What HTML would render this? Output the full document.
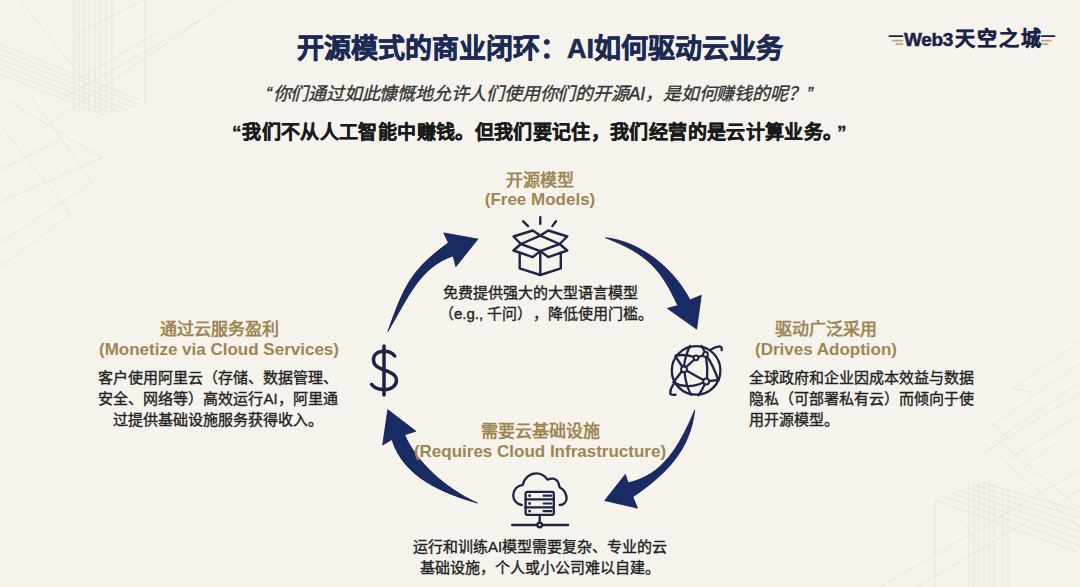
<!DOCTYPE html>
<html lang="zh-CN">
<head>
<meta charset="utf-8">
<style>
html,body{margin:0;padding:0;}
body{width:1080px;height:587px;overflow:hidden;position:relative;background:#f6f3ec;font-family:"Liberation Sans",sans-serif;}
.t{position:absolute;white-space:nowrap;line-height:1;}
.c{text-align:center;width:600px;}
.gold{color:#9e8654;font-weight:bold;font-size:17px;}
.body{color:#222;font-size:15px;line-height:21px;-webkit-text-stroke:0.35px #222;}
svg{position:absolute;left:0;top:0;}
</style>
</head>
<body>
<svg width="1080" height="587" viewBox="0 0 1080 587">
<!-- background decorative lines -->
<g stroke="#e4dfd4" stroke-width="0.7" fill="none">
<path d="M74,0V113M79,0V113M84,0V113M89,0V113M95,0V113M100,0V113M106,0V113M112,0V113M145,0V104"/>
<path d="M0,44L140,100M0,49L140,105M0,54L135,108M0,59L128,110M0,64L120,112M0,69L112,113M0,74L104,115"/>
<path d="M74,36L143,0M79,79L160,31M60,100L200,20M40,130L230,0"/>
<path d="M7,100L102,158M30,95L92,182M0,125L71,214M102,158L0,202M92,182L0,243M71,214L0,267M60,140L0,170M20,0L79,74"/>
<path d="M969,481V587M974,481V587M979,481V587M984,482V587M989,482V587M994,483V587M1003,487V587M1008,488V587M935,500V587"/>
<path d="M935,500L1080,553M943,496L1080,546M951,493L1080,539M959,490L1080,532M967,487L1080,525M975,485L1080,518M983,483L1080,511"/>
<path d="M880,587L1080,470M917,587L1080,490M980,440L1080,528M997,440L1080,508M1020,470L1060,440"/>
<path d="M1013,389L1080,341M989,428L1080,363M994,442L1080,382M983,453L1080,393M1008,460L1080,414M989,420L1033,460M1013,389L1032,392M960,520L977,540"/>
</g>
<!-- logo decorations -->
<g stroke-width="1.8" stroke-linecap="round">
<path d="M889.5,36.2H902.4M1041.9,36.2H1054.5" stroke="#1a2347"/>
<path d="M892.6,40.6H902.4M896.4,44.1H902.4M1041.9,40.6H1051.1M1041.9,44.1H1047.7" stroke="#c4a76c"/>
</g>
<!-- arrows -->
<g fill="#192b64" stroke="#111c48" stroke-width="0.8" stroke-linejoin="miter">
<path d="M387.9,331.5 C404.4,284.5 412,269.35 448.4,242.8 L443.75,232.9 L477.9,239.1 L455.9,266.6 L453.1,255.9 C419.85,267.1 408.3,297.1 387.9,331.5 Z"/>
<path d="M605.6,237.75 C640.25,241.25 674.25,268.85 690,300 L701.25,295.3 L696.6,329.1 L667.5,308.4 L677.8,305.6 C661,269.2 647.45,253.95 605.6,237.75 Z"/>
<path d="M694.7,410.25 C690.3,449.85 666,474.5 632.8,496.9 L637.5,508.1 L604.7,500.6 L625.3,474.4 L628.1,482.8 C662.4,475.45 679.1,447.05 694.7,410.25 Z"/>
<path d="M477.3,503 C443.7,493.2 403.5,477.8 391.9,439.4 L382.7,445 L387.8,409.7 L415.9,431.2 L404.6,434.8 C416.6,462.4 445.4,488.3 477.3,503 Z"/>
</g>
<!-- box icon -->
<g fill="none" stroke="#1c2447" stroke-width="2.4" stroke-linejoin="round" stroke-linecap="round">
<path d="M523.2,221.3 L528,226.1 M540.3,217.2 L540.3,223.7 M556,221.3 L552.4,226.1"/>
<path d="M520.9,244 L540.3,235.6 L559.6,244 L540.3,251.1 Z"/>
<path d="M520.9,244 L513.5,236.5 L532.8,230.5 L540.3,235.6 L548.3,230.5 L567.3,236.5 L559.6,244"/>
<path d="M520.9,244 L513.5,250.5 L532.8,257.1 L540.3,251.1 L548.3,257.1 L567.3,250.5 L559.6,244"/>
<path d="M519.7,252.9 L519.7,268.4 L540.3,275 L560.8,268.4 L560.8,252.9 M540.3,251.1 L540.3,275"/>
</g>
<!-- dollar -->
<g fill="none" stroke="#1c2447" stroke-width="3.5" stroke-linecap="round">
<path d="M384,346 L384,395"/>
<path d="M394.7,356 C392,352.5 388,351.3 384,351.3 C377.5,351.3 373.5,354.5 373.5,359.8 C373.5,366 378.5,368 384,370 C391,372 396.5,374.5 396.5,380 C396.5,386 391,389.6 384,389.6 C378,389.6 373.5,387 371.5,384.3"/>
</g>
<!-- globe -->
<g fill="none" stroke="#1c2447" stroke-width="2.3" stroke-linecap="round" stroke-linejoin="round">
<circle cx="696.1" cy="370.4" r="24.3"/>
<path d="M675.7,355.5 Q686,354 693.8,357"/>
<path d="M690,346 Q685,356 684,366.7"/>
<path d="M675.5,356.5 L682.5,367"/>
<path d="M685.8,367.3 L694.3,359.5"/>
<path d="M698.2,357 L703.3,355.3"/>
<path d="M701.5,346 Q704,350 705,352.3"/>
<path d="M706,356.8 Q708,368 707,379"/>
<path d="M707,356.5 Q713,365 718.5,380.5"/>
<path d="M686.3,370.5 L703.8,380.3"/>
<path d="M684.5,372 Q686,386 691,394.5"/>
<path d="M682,371 L673.5,382.2"/>
<path d="M673.5,382.5 Q688,390 703.8,382.3"/>
<path d="M708.6,381.2 L718.2,380"/>
<path d="M705,384 Q702,390 698.5,395.3"/>
<path d="M710.9,349.7 Q715,346.5 719.6,346.3 Q722.5,347 721.6,350.2"/>
<path d="M673.5,384.4 Q670,389 670.2,393.6 Q672,395.5 675.6,394.7"/>
<circle cx="684" cy="369.3" r="2.9" fill="#f6f3ec" stroke-width="2"/>
<circle cx="696" cy="357.8" r="2.4" fill="#f6f3ec" stroke-width="2"/>
<circle cx="705.5" cy="354.5" r="2.4" fill="#f6f3ec" stroke-width="2"/>
<circle cx="706.2" cy="381.5" r="2.9" fill="#f6f3ec" stroke-width="2"/>
</g>
<!-- cloud server -->
<g fill="none" stroke="#1c2447" stroke-width="2.3" stroke-linecap="round" stroke-linejoin="round">
<path d="M521.7,505 C516,504 513,499.5 513.3,495 C513.5,490 517,485.5 522.8,484.9 C524,478 530,473.3 536.5,473.3 C541,473.3 545,476 547.6,479.6 C550,478.5 552,478.5 553.4,478.6 C556.5,479 558.7,481.5 559.7,487.5 C564,489 566.6,494 566.6,498.5 C566.6,502 563.5,505 559.7,505"/>
<rect x="525.6" y="491.9" width="28.2" height="22.9" rx="1.8" fill="#f6f3ec"/>
<path d="M525.6,499.4 H553.8 M525.6,507.4 H553.8 M539.7,514.8 V522.6 M512.2,525 H537.3 M542.1,525 H568.2"/>
<circle cx="539.7" cy="525" r="2.3"/>
<path d="M543.6,495.7 H551.2 M543.6,503.5 H551.2 M543.6,511.2 H551.2" stroke-width="2.2"/>
</g>
<g fill="#1c2447"><circle cx="529.6" cy="495.7" r="1.4"/><circle cx="529.6" cy="503.5" r="1.4"/><circle cx="529.6" cy="511.2" r="1.4"/></g>
</svg>
<div class="t c" style="left:240px;top:36px;font-size:27px;font-weight:bold;color:#1b2a55;-webkit-text-stroke:0.6px #1b2a55;">开源模式的商业闭环：AI如何驱动云业务</div>
<div class="t" style="left:266px;top:85px;font-size:18px;letter-spacing:-0.2px;font-style:italic;color:#333;-webkit-text-stroke:0.35px #333;">“</div>
<div class="t" style="left:272.5px;top:85px;font-size:18px;letter-spacing:-0.2px;font-style:italic;color:#333;-webkit-text-stroke:0.35px #333;">你们通过如此慷慨地允许人们使用你们的开源AI，是如何赚钱的呢？</div>
<div class="t" style="left:807px;top:85px;font-size:18px;letter-spacing:-0.2px;font-style:italic;color:#333;-webkit-text-stroke:0.35px #333;">”</div>
<div class="t" style="left:232px;top:123px;font-size:19px;font-weight:bold;color:#1a1a1a;-webkit-text-stroke:0.4px #1a1a1a;">“</div>
<div class="t" style="left:242.3px;top:123px;font-size:19px;letter-spacing:0.36px;font-weight:bold;color:#1a1a1a;-webkit-text-stroke:0.4px #1a1a1a;">我们不从人工智能中赚钱。但我们要记住，我们经营的是云计算业务。</div>
<div class="t" style="left:837px;top:123px;font-size:19px;font-weight:bold;color:#1a1a1a;-webkit-text-stroke:0.4px #1a1a1a;">”</div>

<div class="t c gold" style="left:240px;top:172px;">开源模型</div>
<div class="t c gold" style="left:240px;top:191px;">(Free Models)</div>
<div class="t c body" style="left:240px;top:282px;">免费提供强大的大型语言模型</div>
<div class="t body" style="left:439px;top:303px;">（e.g., 千问）<span style="margin-left:8px">，</span>降低使用门槛。</div>

<div class="t c gold" style="left:526px;top:321px;">驱动广泛采用</div>
<div class="t c gold" style="left:526px;top:341px;">(Drives Adoption)</div>
<div class="t body" style="left:749px;top:367px;">全球政府和企业因成本效益与数据<br>隐私（可部署私有云）而倾向于使<br>用开源模型。</div>

<div class="t c gold" style="left:-81px;top:321px;">通过云服务盈利</div>
<div class="t c gold" style="left:-81px;top:341px;">(Monetize via Cloud Services)</div>
<div class="t c body" style="left:-82px;top:367px;">客户使用阿里云（存储、数据管理、<br>安全、网络等）高效运行AI，阿里通<br>过提供基础设施服务获得收入。</div>

<div class="t c gold" style="left:240px;top:423px;">需要云基础设施</div>
<div class="t c gold" style="left:240px;top:443px;">(Requires Cloud Infrastructure)</div>
<div class="t c body" style="left:240px;top:536px;">运行和训练AI模型需要复杂、专业的云<br>基础设施，个人或小公司难以自建。</div>

<div class="t" style="left:904px;top:29px;font-size:20px;font-weight:bold;color:#1a2347;-webkit-text-stroke:0.5px #1a2347;"><span style="font-size:19px;letter-spacing:-0.3px;">Web3</span><span style="letter-spacing:1.8px;margin-left:2px">天空之城</span></div>
</body>
</html>
